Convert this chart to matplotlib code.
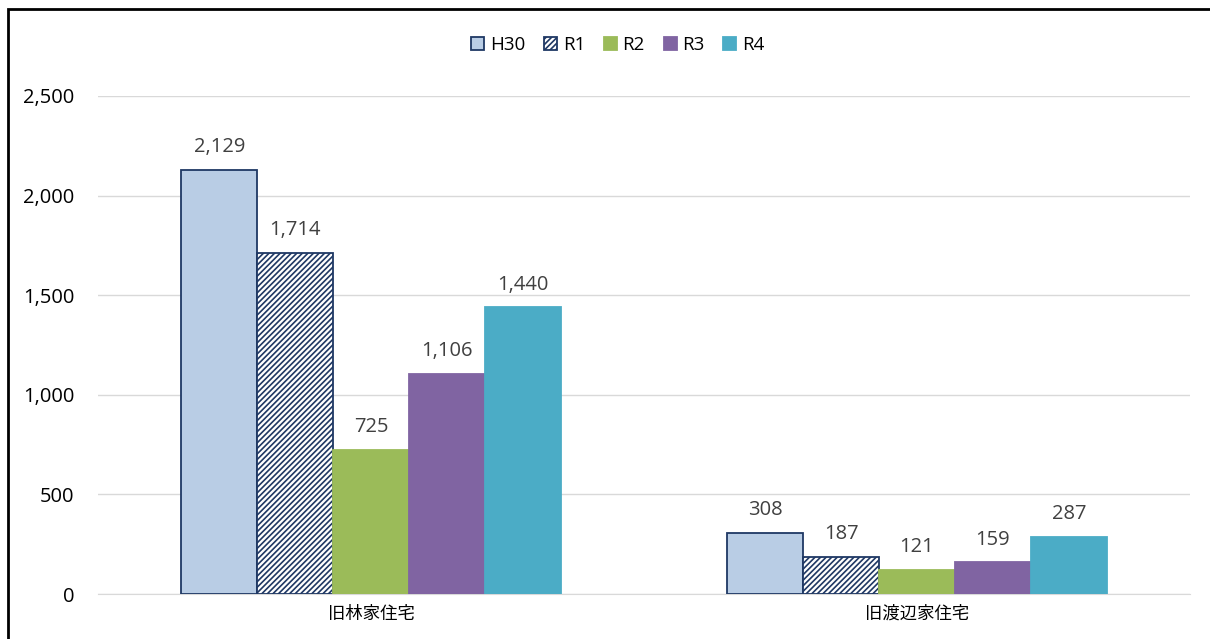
import matplotlib.pyplot as plt
from matplotlib.patches import Rectangle
import numpy as np

plt.rcParams['font.family'] = ['Open Sans', 'Noto Sans CJK JP', 'DejaVu Sans']

# 住宅ごとの年度別入館者数
categories = ['旧林家住宅', '旧渡辺家住宅']
years = ['H30', 'R1', 'R2', 'R3', 'R4']
h30 = [2129, 308]
r1 = [1714, 187]
r2 = [725, 121]
r3 = [1106, 159]
r4 = [1440, 287]

series = [h30, r1, r2, r3, r4]
face = ['#B9CDE5', 'white', '#9BBB59', '#8064A2', '#4BACC6']
edge = ['#1F3864', '#1F3864', '#9BBB59', '#8064A2', '#4BACC6']
hatches = [None, '//////', None, None, None]

plt.rcParams['hatch.color'] = '#61769A'
plt.rcParams['hatch.linewidth'] = 1.2

fig = plt.figure(figsize=(12.1, 6.39), dpi=100)
ax = fig.add_axes([98 / 1210, 1 - 594 / 639, 1092 / 1210, 498 / 639])

x = np.arange(len(categories))
w = 0.139
for i in range(5):
    pos = x + (i - 2) * w
    bars = ax.bar(pos, series[i], w, color=face[i], edgecolor=edge[i],
                  hatch=hatches[i], linewidth=1.3, label=years[i], zorder=3)
    for b, v in zip(bars, series[i]):
        ax.annotate(f'{v:,}', (b.get_x() + b.get_width() / 2, v),
                    xytext=(0, 9), textcoords='offset points',
                    ha='center', va='bottom', fontsize=14.5, color='#404040')

ax.set_xlim(-0.5, 1.5)
ax.set_ylim(0, 2500)
ax.set_yticks(range(0, 2501, 500))
ax.set_yticklabels([f'{v:,}' for v in range(0, 2501, 500)], fontsize=14.5)
ax.set_xticks(x)
ax.set_xticklabels(categories, fontsize=12.5)
ax.tick_params(length=0, pad=9)
ax.tick_params(axis='y', pad=17)
ax.grid(axis='y', color='#D9D9D9', linewidth=1, zorder=0)
for s in ['top', 'right', 'left']:
    ax.spines[s].set_visible(False)
ax.spines['bottom'].set_color('#D9D9D9')

leg = ax.legend(loc='center', bbox_to_anchor=(0.476, 1 + 51 / 498),
                ncol=5, frameon=False, fontsize=13.5, handlelength=0.7,
                handleheight=0.7, handletextpad=0.3, columnspacing=1.0)

# 外枠
fig.patches.append(Rectangle((8 / 1210, -0.1), 1.2, 1 - 9 / 639 + 0.1,
                             transform=fig.transFigure, fill=False,
                             edgecolor='black', linewidth=2))

fig.savefig('out.png', dpi=100)
